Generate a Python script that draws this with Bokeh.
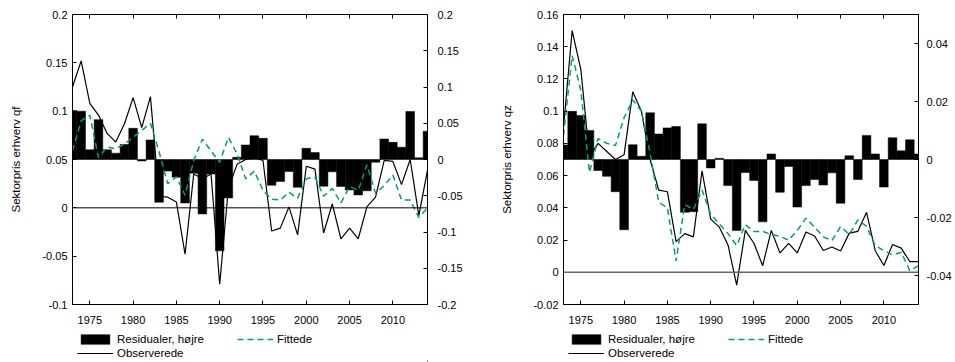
from bokeh.plotting import figure
from bokeh.models import (Range1d, LinearAxis, FixedTicker, CustomJSTickFormatter,
                          Span, Legend, LegendItem, ColumnDataSource)
from bokeh.layouts import row, column
from bokeh.embed import file_html
from bokeh.resources import INLINE

years = list(range(1973, 2015))

# ---- panel 1: qf ----
obs_qf = [0.125, 0.152, 0.108, 0.096, 0.077, 0.068, 0.087, 0.114, 0.083, 0.115,
          0.012, 0.011, 0.006, -0.048, 0.035, 0.030, 0.035, -0.079, 0.020, 0.045,
          0.050, 0.052, 0.049, -0.024, -0.021, 0.001, -0.028, 0.043, 0.040, -0.026,
          0.004, -0.032, -0.021, -0.032, 0.001, 0.011, 0.049, 0.048, 0.024, 0.050,
          -0.008, 0.039]
fit_qf = [0.059, 0.090, 0.096, 0.052, 0.063, 0.061, 0.066, 0.073, 0.080, 0.0875,
          0.058, 0.025, 0.032, 0.013, 0.049, 0.071, 0.059, 0.047, 0.073, 0.056,
          0.030, 0.038, 0.018, 0.009, 0.008, 0.016, 0.010, 0.030, 0.032, 0.012,
          0.020, 0.005, 0.022, 0.018, 0.0445, 0.015, 0.023, 0.034, 0.008, 0.008,
          -0.010, 0.000]
res_qf = [0.0676, 0.0667, 0.0134, 0.055, 0.0134, 0.0087, 0.0207, 0.043, -0.002, 0.027,
          -0.059, -0.016, -0.0244, -0.060, -0.019, -0.075, -0.020, -0.126, -0.053, 0.003,
          0.020, 0.0328, 0.0292, -0.0356, -0.0303, -0.0166, -0.0382, 0.0154, 0.0095, -0.0368,
          -0.0170, -0.0372, -0.0420, -0.0488, -0.0432, -0.0037, 0.0283, 0.0237, 0.017, 0.0662,
          0.0023, 0.039]

# ---- panel 2: qz ----
obs_qz = [0.090, 0.150, 0.126, 0.072, 0.080, 0.075, 0.070, 0.073, 0.112, 0.100,
          0.070, 0.051, 0.050, 0.019, 0.024, 0.022, 0.063, 0.033, 0.028, 0.017,
          -0.008, 0.026, 0.018, 0.004, 0.026, 0.012, 0.018, 0.012, 0.025, 0.0225,
          0.0135, 0.0157, 0.0132, 0.0243, 0.0254, 0.0372, 0.0134, 0.0042, 0.0172, 0.0150,
          0.0066, 0.0066]
fit_qz = [0.085, 0.1345, 0.113, 0.062, 0.083, 0.080, 0.0786, 0.096, 0.107, 0.100,
          0.074, 0.0435, 0.040, 0.007, 0.042, 0.039, 0.051, 0.036, 0.030, 0.024,
          0.0166, 0.0296, 0.0253, 0.0254, 0.0234, 0.0223, 0.020, 0.026, 0.0336, 0.028,
          0.022, 0.0197, 0.0284, 0.0234, 0.0325, 0.0285, 0.0166, 0.0135, 0.0108, 0.0124,
          0.001, 0.0042]
res_qz = [0.005, 0.0166, 0.0152, 0.010, -0.0038, -0.0058, -0.0111, -0.0242, 0.0051, 0.0011,
          0.0161, 0.0088, 0.0109, 0.0114, -0.0182, -0.018, 0.0123, -0.0029, 0.0004, -0.009,
          -0.0245, -0.0045, -0.0072, -0.0215, 0.0019, -0.0113, -0.0024, -0.0164, -0.009, -0.0069,
          -0.0088, -0.0046, -0.0151, 0.0013, -0.0069, 0.0083, 0.0019, -0.0095, 0.0075, 0.0030,
          0.0068, 0.0019]

x_ticks = [1975, 1980, 1985, 1990, 1995, 2000, 2005, 2010]
qf_left_ticks = [-0.1, -0.05, 0, 0.05, 0.1, 0.15, 0.2]
qf_right_ticks = [-0.2, -0.15, -0.1, -0.05, 0, 0.05, 0.1, 0.15, 0.2]
qz_left_ticks = [-0.02, 0, 0.02, 0.04, 0.06, 0.08, 0.1, 0.12, 0.14, 0.16]
qz_right_ticks = [-0.04, -0.02, 0, 0.02, 0.04]

labels = ["Residualer, højre", "Fittede", "Observerede"]

FONT = "Liberation Sans"
TICK_FS = "11px"
LEG_FS = "11.5px"
GREEN = "#009e73"
BAR_KW = dict(fill_color="black", line_color="black", line_width=0.5)
OBS_KW = dict(line_color="black", line_width=1.2)
FIT_KW = dict(line_color=GREEN, line_width=1.5, line_dash="6 4")


def fmt():
    return CustomJSTickFormatter(code="return String(Math.round(tick*1000)/1000);")


def style(ax, standoff):
    ax.major_tick_in = 4
    ax.major_tick_out = 0
    ax.minor_tick_in = 0
    ax.minor_tick_out = 0
    ax.axis_line_color = "black"
    ax.major_tick_line_color = "black"
    ax.major_label_text_color = "black"
    ax.major_label_text_font = FONT
    ax.major_label_text_font_size = TICK_FS
    ax.major_label_standoff = standoff


def make_panel(obs, fit, res, ylabel, yr, yticks, y2r, y2ticks,
               zero_color, zero_width, zero_dash, bl, br, y2_standoff):
    p = figure(frame_width=355, frame_height=290,
               x_range=Range1d(1973, 2014), y_range=Range1d(yr[0], yr[1]),
               output_backend="svg", toolbar_location=None,
               min_border_left=bl, min_border_right=br,
               min_border_top=14, min_border_bottom=26,
               x_axis_type=None, y_axis_type=None)
    p.extra_y_ranges = {"res": Range1d(y2r[0], y2r[1])}
    p.grid.visible = False
    p.outline_line_color = "black"
    p.outline_line_width = 1
    p.background_fill_color = "white"
    p.border_fill_color = "white"

    src = ColumnDataSource(dict(year=years, obs=obs, fit=fit, res=res))
    p.vbar(x="year", top="res", bottom=0, width=1, source=src,
           y_range_name="res", **BAR_KW)
    p.add_layout(Span(location=0, dimension="width", line_color=zero_color,
                      line_width=zero_width, line_dash=zero_dash))
    p.line("year", "obs", source=src, **OBS_KW)
    p.line("year", "fit", source=src, **FIT_KW)

    xb = LinearAxis(ticker=FixedTicker(ticks=x_ticks))
    style(xb, 11)
    p.add_layout(xb, "below")
    xt = LinearAxis(ticker=FixedTicker(ticks=x_ticks))
    style(xt, 0)
    xt.major_label_text_font_size = "0px"
    p.add_layout(xt, "above")

    yl = LinearAxis(ticker=FixedTicker(ticks=yticks), formatter=fmt(),
                    axis_label=ylabel, axis_label_standoff=17,
                    axis_label_text_font=FONT, axis_label_text_font_size=LEG_FS,
                    axis_label_text_font_style="normal",
                    axis_label_text_color="black")
    style(yl, 5)
    p.add_layout(yl, "left")
    yra = LinearAxis(y_range_name="res", ticker=FixedTicker(ticks=y2ticks),
                     formatter=fmt())
    style(yra, y2_standoff)
    p.add_layout(yra, "right")
    return p


def make_legend(width, vx, res):
    # separate strip under each panel that only holds the legend;
    # the proxy marks sit outside its (0..1) ranges, so only the key shows
    lf = figure(width=width, height=32, x_range=Range1d(0, 1), y_range=Range1d(0, 1),
                output_backend="svg", toolbar_location=None,
                min_border=0, x_axis_type=None, y_axis_type=None)
    lf.grid.visible = False
    lf.outline_line_color = None
    lf.background_fill_color = "white"
    lf.border_fill_color = "white"
    src = ColumnDataSource(dict(year=years[:1], res=res[:1]))
    rb = lf.vbar(x="year", top="res", bottom=0, width=1, source=src, **BAR_KW)
    ro = lf.line("year", "res", source=src, **OBS_KW)
    rf = lf.line("year", "res", source=src, **FIT_KW)
    items = [LegendItem(label=labels[0], renderers=[rb]),
             LegendItem(label=labels[2], renderers=[ro]),
             LegendItem(label=labels[1], renderers=[rf])]
    lg = Legend(items=items, location=(vx, 2), orientation="vertical", nrows=2,
                glyph_width=36, glyph_height=12, label_standoff=4,
                label_width=120, label_height=14, padding=0, margin=0, spacing=0,
                border_line_color=None, background_fill_alpha=0,
                label_text_font=FONT, label_text_font_size=LEG_FS,
                label_text_color="black")
    lf.add_layout(lg)
    return lf


p1 = make_panel(obs_qf, fit_qf, res_qf, "Sektorpris erhverv qf",
                (-0.1, 0.2), qf_left_ticks, (-0.2, 0.2), qf_right_ticks,
                "black", 1, "solid", 72, 53, 10)
p2 = make_panel(obs_qz, fit_qz, res_qz, "Sektorpris erhverv qz",
                (-0.02, 0.16), qz_left_ticks, (-0.05, 0.05), qz_right_ticks,
                "#666666", 1.5, "solid", 83, 37, 8)
l1 = make_legend(480, 5, res_qf)
l2 = make_legend(475, 5, res_qz)

layout = row(column(p1, l1), column(p2, l2))
open("out.html", "w").write(file_html(layout, INLINE))
